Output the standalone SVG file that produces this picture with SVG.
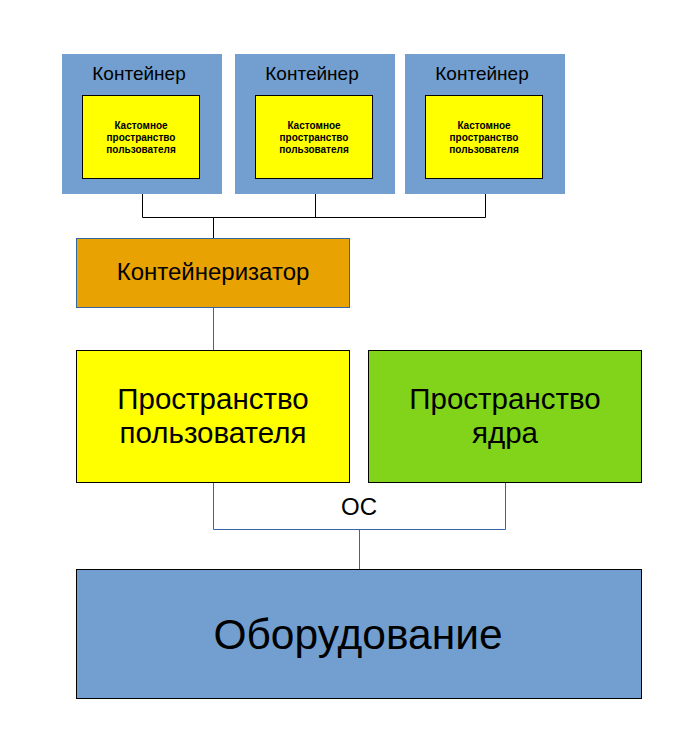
<svg xmlns="http://www.w3.org/2000/svg" width="690" height="745" viewBox="0 0 690 745">
<style>
text{font-family:"Liberation Sans",Arial,sans-serif;fill:#000;text-anchor:middle}
.cont{fill:#729fcf}
.inner{fill:#ffff00;stroke:#000;stroke-width:1}
.ct{font-size:19px}
.it{font-size:10px;font-weight:bold}
.box{stroke:#000;stroke-width:1}
.conn{fill:none;stroke:#000;stroke-width:1}
.bl{fill:none;stroke:#3465a4;stroke-width:1}
.big{font-size:29.5px}
</style>
<rect width="690" height="745" fill="#fff"/>
<g id="connectors">
<path class="conn" d="M142.5 194V217.5H485.5V194M315.5 194V217.5M213.5 217.5V238"/>
<path class="bl" d="M213.5 307V350"/>
<path class="bl" d="M213.5 482V529.5H505.5V482M359.5 529.5V569"/>
</g>
<g id="container1">
<rect class="cont" x="62" y="54" width="160" height="140"/>
<text class="ct" x="139" y="80">Контейнер</text>
<rect class="inner" x="82.5" y="95.5" width="117" height="83"/>
<text class="it" x="141" y="129">Кастомное</text>
<text class="it" x="141" y="141">пространство</text>
<text class="it" x="141" y="153">пользователя</text>
</g>
<g id="container2">
<rect class="cont" x="235" y="54" width="160" height="140"/>
<text class="ct" x="312" y="80">Контейнер</text>
<rect class="inner" x="255.5" y="95.5" width="117" height="83"/>
<text class="it" x="314" y="129">Кастомное</text>
<text class="it" x="314" y="141">пространство</text>
<text class="it" x="314" y="153">пользователя</text>
</g>
<g id="container3">
<rect class="cont" x="405" y="54" width="160" height="140"/>
<text class="ct" x="482" y="80">Контейнер</text>
<rect class="inner" x="425.5" y="95.5" width="117" height="83"/>
<text class="it" x="484" y="129">Кастомное</text>
<text class="it" x="484" y="141">пространство</text>
<text class="it" x="484" y="153">пользователя</text>
</g>
<g id="containerizer">
<rect x="76.5" y="238.5" width="273" height="69" fill="#e8a202" stroke="#3465a4" stroke-width="1"/>
<text x="213" y="280" style="font-size:24px">Контейнеризатор</text>
</g>
<g id="userspace">
<rect class="box" x="76.5" y="350.5" width="273" height="132" fill="#ffff00"/>
<text class="big" x="213" y="409">Пространство</text>
<text class="big" x="213" y="443">пользователя</text>
</g>
<g id="kernelspace">
<rect class="box" x="368.5" y="350.5" width="273" height="132" fill="#81d41a"/>
<text class="big" x="505" y="409">Пространство</text>
<text class="big" x="505" y="443">ядра</text>
</g>
<g id="os">
<text x="359" y="515" style="font-size:24px">ОС</text>
</g>
<g id="hardware">
<rect class="box" x="76.5" y="569.5" width="565" height="129" fill="#729fcf"/>
<text x="358" y="649" style="font-size:42.5px">Оборудование</text>
</g>
</svg>
